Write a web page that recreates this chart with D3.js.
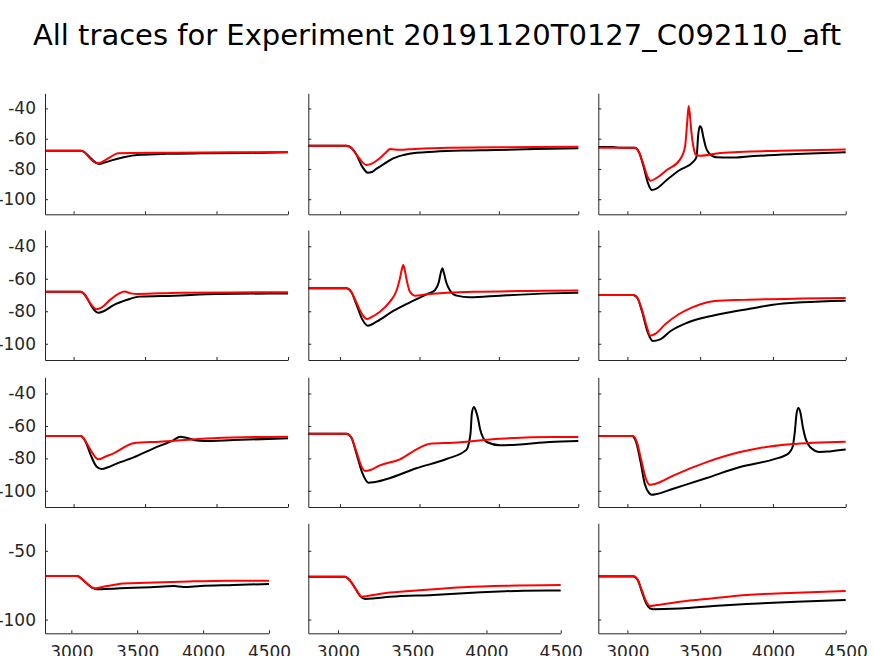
<!DOCTYPE html>
<html>
<head>
<meta charset="utf-8">
<script src="https://cdn.jsdelivr.net/npm/d3@7"></script>
<style>
  html, body { margin: 0; padding: 0; background: #fff; }
  svg { display: block; font-family: "DejaVu Sans", sans-serif; }
</style>
</head>
<body>
<svg id="chart" width="874" height="656"></svg>
<script>
// ---------------- DATA ----------------
const titleText = "All traces for Experiment 20191120T0127_C092110_aft";
const xDomain = [2800, 4500];
const yDomain = [-110, -30];
const xTicks = [3000, 3500, 4000, 4500];
const yTicksUpper = [-40, -60, -80, -100];
const yTicksLower = [-50, -100];
const seriesNames = ["black", "red"];

// row 1
const r1c1_black = [[2800,-68],[3050,-68],[3075,-68.8],[3110,-72],[3150,-75.5],[3180,-76.7],[3210,-76],[3260,-74.5],[3350,-72.3],[3460,-70.7],[3650,-70],[3900,-69.7],[4200,-69.5],[4500,-69]];
const r1c1_red   = [[2800,-68],[3050,-68],[3075,-69],[3110,-72.5],[3150,-75.8],[3175,-76.2],[3210,-74.8],[3260,-72],[3310,-69.6],[3400,-69.4],[3700,-69.3],[4100,-69],[4500,-68.8]];
const r1c2_black = [[2800,-64.6],[3040,-64.6],[3070,-66],[3100,-70],[3140,-78.5],[3175,-82.5],[3200,-82],[3230,-79.8],[3280,-76.5],[3320,-73.8],[3400,-70.8],[3480,-69.3],[3590,-68.6],[3770,-67.9],[3980,-67.5],[4230,-66.8],[4500,-66.4]];
const r1c2_red   = [[2800,-64.6],[3040,-64.6],[3070,-66],[3100,-70],[3140,-75.5],[3165,-77.4],[3200,-76.5],[3250,-73],[3290,-69],[3315,-66.8],[3370,-67.4],[3470,-66.8],[3680,-66],[4230,-65.5],[4500,-65.3]];
const r1c3_black = [[2800,-65.5],[2900,-65.5],[2950,-66],[3050,-66],[3080,-69],[3110,-78],[3140,-89],[3168,-93.9],[3200,-93],[3270,-87.3],[3360,-80.7],[3450,-75.5],[3475,-72],[3487,-57],[3497,-51.8],[3507,-52.5],[3522,-59],[3540,-66],[3560,-69.5],[3610,-72.3],[3710,-72.5],[3870,-71.5],[4160,-70.2],[4500,-69]];
const r1c3_red   = [[2800,-66],[3050,-66],[3080,-69],[3110,-77],[3140,-85.5],[3158,-87.8],[3200,-86],[3270,-80.7],[3360,-74],[3396,-65.3],[3412,-47.7],[3421,-38.4],[3430,-45],[3440,-56],[3453,-65],[3470,-70.5],[3500,-71.3],[3640,-69.4],[4050,-68],[4500,-67.2]];
// row 2
const r2c1_black = [[2800,-68],[3050,-68],[3080,-70],[3120,-76],[3150,-79.8],[3175,-80.9],[3210,-80],[3280,-76.2],[3370,-73.1],[3460,-71],[3700,-70.4],[4000,-69.4],[4500,-69]];
const r2c1_red   = [[2800,-68],[3050,-68],[3080,-70],[3120,-75.5],[3160,-78.8],[3200,-77.5],[3255,-73],[3320,-69],[3355,-67.8],[3400,-69],[3450,-69.4],[3740,-68.6],[4500,-68.3]];
const r2c2_black = [[2800,-65.9],[3040,-65.9],[3070,-68],[3100,-75],[3140,-85],[3175,-88.9],[3230,-86.4],[3335,-79.8],[3440,-74.5],[3545,-69.6],[3598,-66.9],[3622,-62],[3635,-56],[3644,-53.6],[3654,-56.5],[3668,-62],[3692,-67.2],[3734,-70.4],[3818,-71.4],[4007,-70.4],[4320,-69],[4500,-68.6]];
const r2c2_red   = [[2800,-65.9],[3040,-65.9],[3070,-68],[3100,-74],[3140,-82],[3168,-84.8],[3200,-83.5],[3251,-80.3],[3314,-74.1],[3357,-66.9],[3377,-59.7],[3392,-53],[3398,-51.5],[3408,-55],[3420,-61],[3440,-68],[3472,-70.4],[3545,-69.6],[3840,-68],[4200,-67.5],[4500,-67.3]];
const r2c3_black = [[2800,-70],[3040,-70],[3070,-72],[3100,-80],[3140,-93],[3175,-98.3],[3220,-97.5],[3300,-92],[3400,-87.5],[3500,-84.5],[3650,-81.5],[3840,-78.5],[4000,-76],[4200,-74.5],[4500,-73.5]];
const r2c3_red   = [[2800,-70],[3040,-70],[3070,-72],[3100,-79],[3135,-90],[3155,-95],[3190,-94],[3260,-88],[3350,-82],[3450,-77.5],[3550,-74.5],[3600,-73.7],[3800,-73],[4200,-72.2],[4500,-71.8]];
// row 3
const r3c1_black = [[2800,-66.2],[3050,-66.2],[3080,-69],[3120,-78],[3160,-85],[3196,-86.6],[3240,-85.5],[3280,-84],[3420,-79.4],[3560,-73.8],[3700,-68.7],[3745,-66.6],[3790,-67.3],[3850,-68.8],[3910,-69.3],[4120,-68.7],[4500,-67.6]];
const r3c1_red   = [[2800,-66.2],[3050,-66.2],[3080,-69],[3120,-75],[3160,-80],[3175,-80.6],[3220,-79],[3280,-76.9],[3420,-70.7],[3600,-69.7],[3980,-67.6],[4500,-66.6]];
const r3c2_black = [[2800,-64.8],[3040,-64.8],[3070,-67],[3100,-76],[3140,-89],[3178,-95],[3210,-94.8],[3290,-92.9],[3480,-86.1],[3670,-80.4],[3797,-74.6],[3812,-70],[3822,-64],[3830,-52],[3843,-48.3],[3856,-51],[3870,-56],[3881,-61.7],[3923,-69.9],[4007,-71.9],[4112,-71.6],[4320,-69.9],[4500,-69.3]];
const r3c2_red   = [[2800,-64.8],[3040,-64.8],[3070,-67],[3100,-75],[3135,-85],[3157,-87.8],[3190,-87.2],[3251,-84.3],[3377,-80.6],[3482,-74.4],[3566,-71],[3713,-70.3],[4007,-67.9],[4343,-66.8],[4500,-66.8]];
const r3c3_black = [[2800,-66.2],[3030,-66.2],[3060,-70],[3090,-82],[3120,-96],[3150,-101.5],[3167,-102.4],[3200,-102],[3315,-98.7],[3545,-92.1],[3774,-85.3],[4003,-80.6],[4106,-77.1],[4135,-73],[4150,-64],[4163,-52],[4175,-48.9],[4188,-51.4],[4205,-60.5],[4225,-68],[4255,-73],[4323,-76.1],[4392,-75.7],[4500,-74.6]];
const r3c3_red   = [[2800,-66.2],[3040,-66.2],[3065,-70],[3095,-81],[3125,-92],[3155,-96.3],[3200,-95.5],[3315,-90.6],[3545,-82.3],[3774,-76.1],[3911,-73.6],[4117,-71.3],[4500,-69.7]];
// row 4
const r4c1_black = [[2800,-68.3],[3045,-68.3],[3080,-70.5],[3120,-74],[3160,-77],[3194,-78],[3250,-77.8],[3370,-77.3],[3600,-76.5],[3780,-75.6],[3850,-76.3],[3980,-75.6],[4230,-74.9],[4500,-74.1]];
const r4c1_red   = [[2800,-68.3],[3045,-68.3],[3080,-70.5],[3120,-74],[3160,-76.8],[3179,-77.3],[3217,-76.6],[3318,-74.9],[3394,-73.7],[3572,-73.2],[3825,-72.5],[4180,-71.7],[4500,-71.7]];
const r4c2_black = [[2800,-68.8],[3047,-68.8],[3080,-71.5],[3120,-78],[3150,-83],[3182,-85],[3250,-84.5],[3350,-83.4],[3640,-82.1],[3934,-80.4],[4250,-79],[4500,-78.8]];
const r4c2_red   = [[2800,-68.8],[3047,-68.8],[3080,-71.5],[3120,-78],[3145,-82],[3160,-83.4],[3200,-82.8],[3350,-80.4],[3575,-78.5],[3844,-76.5],[4136,-75.4],[4500,-74.9]];
const r4c3_black = [[2800,-68.6],[3040,-68.6],[3070,-71],[3100,-80],[3130,-88.5],[3155,-91.8],[3178,-92.5],[3250,-92.4],[3361,-92],[3590,-90.2],[3819,-88.7],[4161,-87],[4500,-85.8]];
const r4c3_red   = [[2800,-68.3],[3040,-68.3],[3070,-71],[3100,-79],[3130,-87],[3155,-90.1],[3200,-89.5],[3361,-87],[3590,-84.5],[3819,-82.1],[4161,-80.5],[4500,-79.2]];

const panelData = [
  [[r1c1_black, r1c1_red], [r1c2_black, r1c2_red], [r1c3_black, r1c3_red]],
  [[r2c1_black, r2c1_red], [r2c2_black, r2c2_red], [r2c3_black, r2c3_red]],
  [[r3c1_black, r3c1_red], [r3c2_black, r3c2_red], [r3c3_black, r3c3_red]],
  [[r4c1_black, r4c1_red], [r4c2_black, r4c2_red], [r4c3_black, r4c3_red]]
];

// ---------------- LAYOUT / STYLE ----------------
const rowBands = [[93.3, 214.3], [230, 360], [377.3, 507], [523.3, 633.3]];
const colBands = [[45, 288], [308.3, 578.3], [598.3, 845.7]];
const colBandsLast = [[45, 269], [308.3, 560.7], [598.3, 845.7]];
const colors = { black: "#000000", red: "#ff0000" };
const axisColor = "#262626";
const fontSize = 17;

const svg = d3.select("#chart");

svg.append("text")
  .attr("x", 437).attr("y", 45)
  .attr("text-anchor", "middle")
  .attr("font-size", 29)
  .attr("fill", "#000")
  .text(titleText);

panelData.forEach((row, ri) => {
  row.forEach((traces, ci) => {
    const isLast = ri === panelData.length - 1;
    const cb = isLast ? colBandsLast[ci] : colBands[ci];
    const rb = rowBands[ri];
    const x = d3.scaleLinear().domain(xDomain).range(cb);
    const y = d3.scaleLinear().domain(yDomain).range([rb[1], rb[0]]);
    const g = svg.append("g");

    const line = d3.line()
      .x(d => x(d[0])).y(d => y(d[1]))
      .curve(d3.curveMonotoneX);

    traces.forEach((tr, si) => {
      g.append("path")
        .datum(tr)
        .attr("fill", "none")
        .attr("stroke", colors[seriesNames[si]])
        .attr("stroke-width", 2)
        .attr("stroke-linejoin", "round")
        .attr("d", line);
    });

    const yTicks = isLast ? yTicksLower : yTicksUpper;
    const yAxis = d3.axisLeft(y).tickValues(yTicks)
      .tickSizeInner(-3).tickSizeOuter(0).tickPadding(9)
      .tickFormat(ci === 0 ? d3.format("d") : () => "");
    const xAxis = d3.axisBottom(x).tickValues(xTicks)
      .tickSizeInner(-3).tickSizeOuter(0).tickPadding(13)
      .tickFormat(isLast ? d3.format("d") : () => "");

    const ya = g.append("g").attr("transform", `translate(${cb[0]},0)`).call(yAxis);
    const xa = g.append("g").attr("transform", `translate(0,${rb[1]})`).call(xAxis);
    [ya, xa].forEach(a => {
      a.select(".domain").attr("stroke", axisColor);
      a.selectAll(".tick line").attr("stroke", axisColor);
      a.selectAll(".tick text")
        .attr("fill", axisColor)
        .attr("font-size", fontSize)
        .attr("font-family", "DejaVu Sans, sans-serif");
    });
    ya.selectAll(".tick text").text(function(){ return this.textContent.replace("\u2212", "-"); });
  });
});
</script>
</body>
</html>
